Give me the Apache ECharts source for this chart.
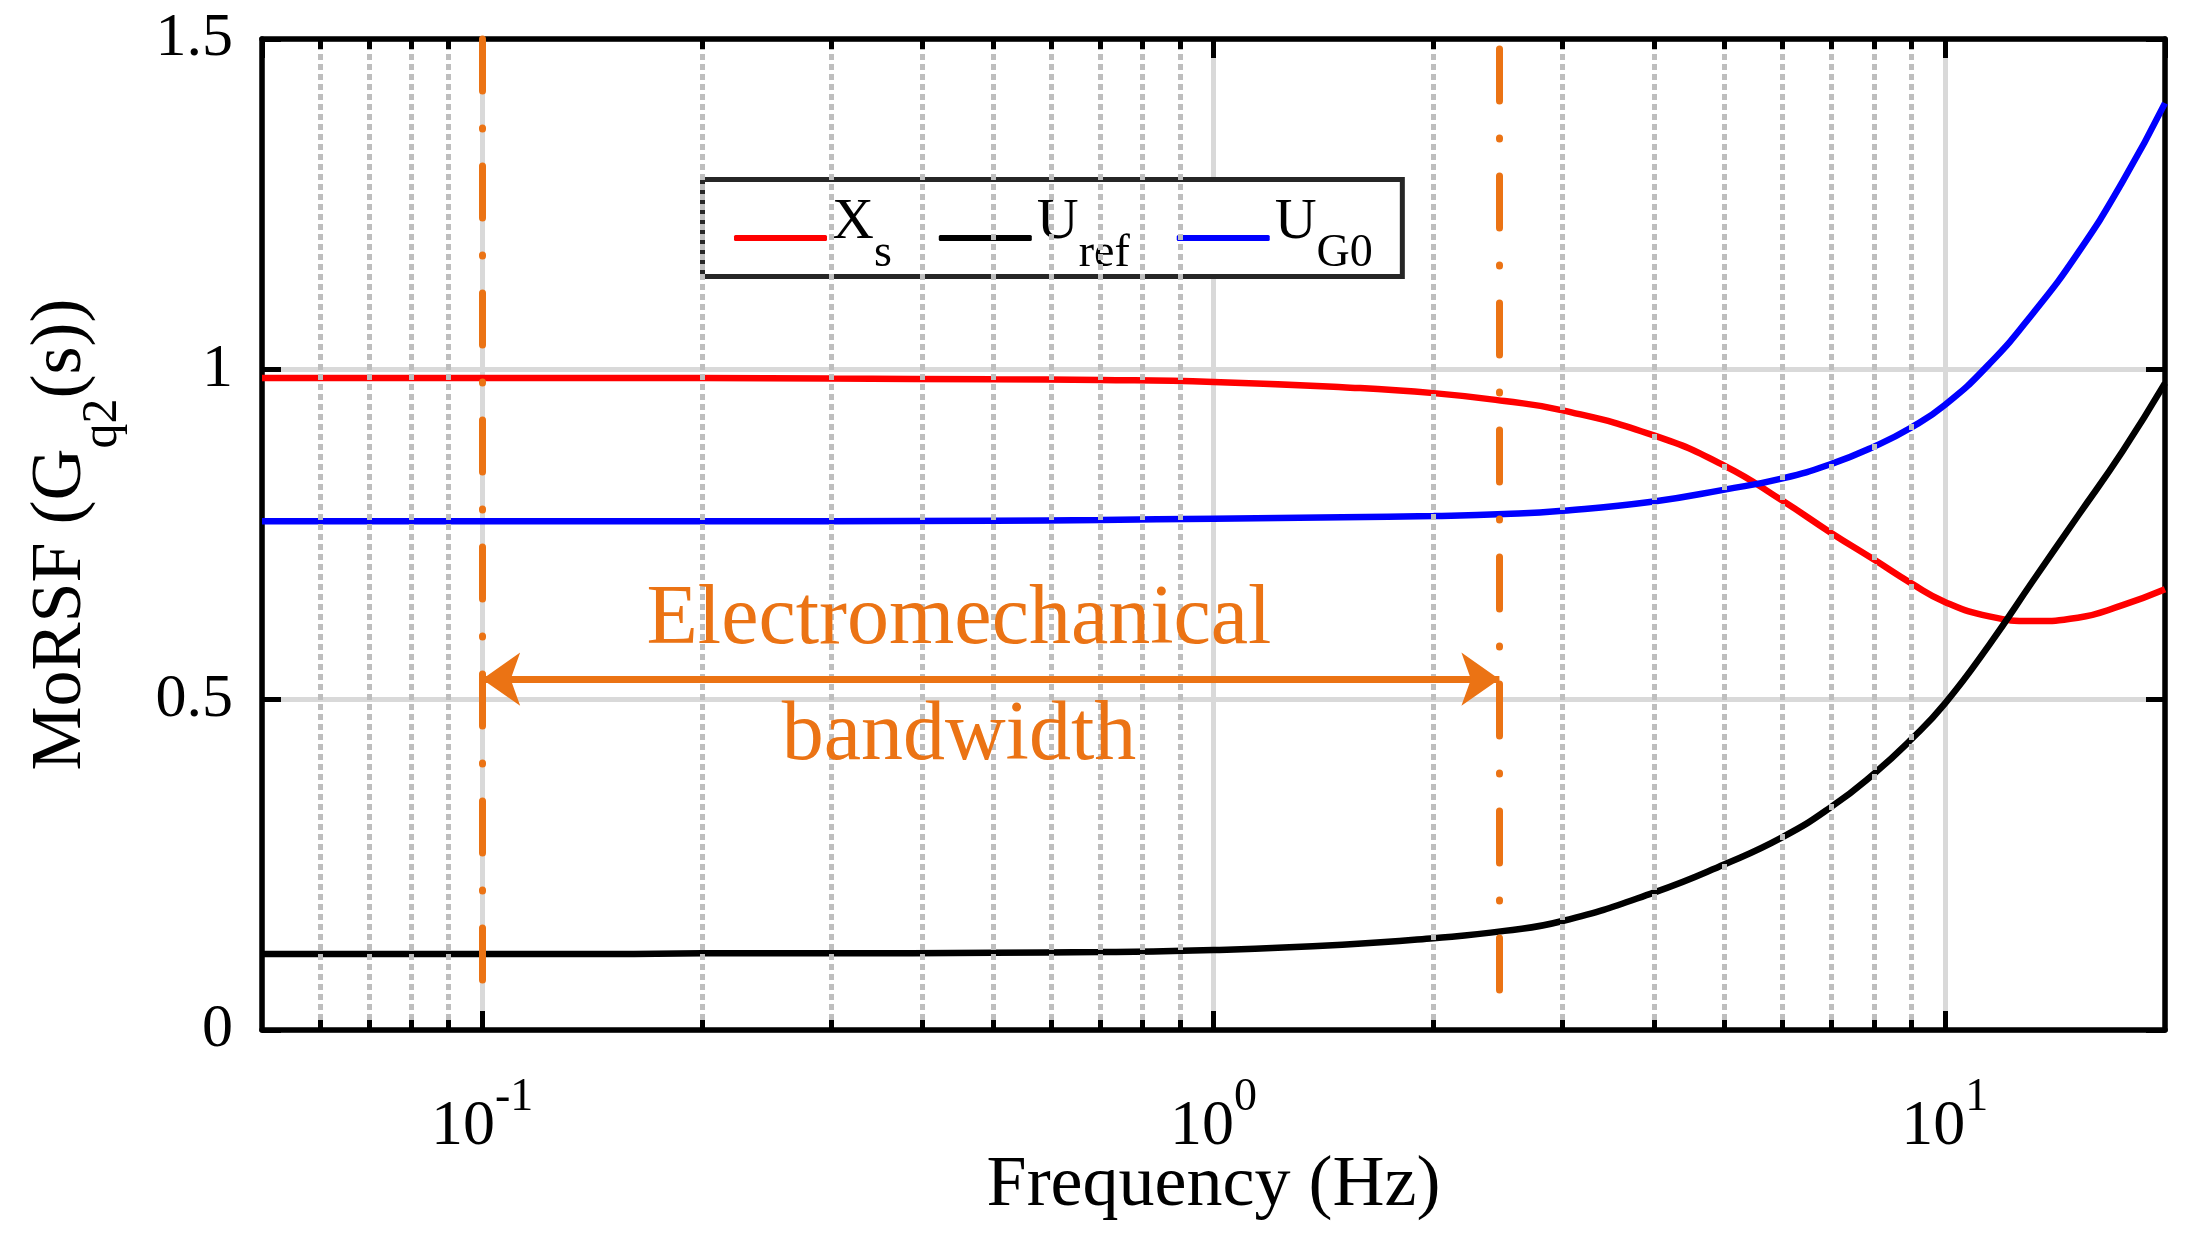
<!DOCTYPE html>
<html>
<head>
<meta charset="utf-8">
<script src="https://cdn.jsdelivr.net/npm/echarts@6/dist/echarts.min.js"></script>
<style>
html,body{margin:0;padding:0;background:#ffffff;}
#c{width:2198px;height:1235px;}
</style>
</head>
<body>
<div id="c"></div>
<script>
// ---- data ----
const freqHz  = [0.05, 0.07, 0.1, 0.15, 0.2, 0.3, 0.5, 0.7, 1, 1.5, 2, 2.5, 3, 4, 5, 6, 7, 8, 9, 10, 11.5, 13.2, 15.2, 17.5, 20];
const xsMag   = [0.987,0.987,0.987,0.987,0.987,0.986,0.985,0.984,0.981,0.973,0.964,0.952,0.938,0.900,0.854,0.801,0.752,0.712,0.676,0.648,0.626,0.619,0.624,0.643,0.667];
const urefMag = [0.115,0.115,0.115,0.115,0.116,0.116,0.117,0.118,0.121,0.129,0.139,0.150,0.165,0.208,0.251,0.292,0.338,0.388,0.440,0.494,0.583,0.680,0.778,0.876,0.979];
const ug0Mag  = [0.770,0.770,0.770,0.770,0.770,0.770,0.771,0.772,0.774,0.776,0.778,0.781,0.786,0.800,0.818,0.835,0.857,0.883,0.912,0.946,1.008,1.085,1.176,1.284,1.403];
const seriesNames = ['Xs', 'Uref', 'UG0'];
const legendLabels = {Xs: ['X', 's'], Uref: ['U', 'ref'], UG0: ['U', 'G0']};
const minorFreqs = [0.06,0.07,0.08,0.09,0.2,0.3,0.4,0.5,0.6,0.7,0.8,0.9,2,3,4,5,6,7,8,9];
const xRange = [0.05, 20];
const yRange = [0, 1.5];
const yStep = 0.5;
const bandLowHz = 0.1;
const bandHighHz = 2.46;
const bandArrowLevel = 0.531;
const bandText = ['Electromechanical', 'bandwidth'];
const bandTextAt = [0.4487, 0.531];

// ---- chart ----
const FONT = 'Liberation Serif';
const ORANGE = '#EB7314';
const chart = echarts.init(document.getElementById('c'), null, {renderer: 'canvas', width: 2198, height: 1235});
const pairs = ys => freqHz.map((f, i) => [f, ys[i]]);
const isPow10 = v => { const l = Math.log10(v); return Math.abs(l - Math.round(l)) < 1e-6; };
const tickLen = (yRange[1] - yRange[0]) * 10 / 991;

function vline(x, y0, y1) { return [{coord: [x, y0]}, {coord: [x, y1]}]; }
const arrowEnd = {symbol: 'arrow', symbolSize: [40, 38]};

const option = {
  animation: false,
  backgroundColor: '#ffffff',
  grid: {left: 262, right: 33, top: 39, bottom: 205, containLabel: false},
  legend: {
    data: seriesNames,
    left: 702.5, top: 179.5,
    orient: 'horizontal',
    padding: [14, 29.5, 0, 31.5],
    itemGap: 47,
    itemWidth: 93, itemHeight: 6,
    icon: 'roundRect',
    selectedMode: false,
    backgroundColor: '#ffffff',
    borderColor: '#262626', borderWidth: 5, borderRadius: 0,
    formatter: name => '{m|' + legendLabels[name][0] + '}{s|' + legendLabels[name][1] + '}',
    textStyle: {
      color: '#000', fontFamily: FONT, fontSize: 58,
      rich: {
        m: {fontFamily: FONT, fontSize: 58, lineHeight: 23, verticalAlign: 'top', color: '#000'},
        s: {fontFamily: FONT, fontSize: 46, lineHeight: 89, padding: [37, 0, 0, 0], verticalAlign: 'top', color: '#000'}
      }
    }
  },
  xAxis: [
    {
      type: 'log', logBase: 10, min: xRange[0], max: xRange[1], position: 'bottom',
      axisLine: {show: true, onZero: false, lineStyle: {color: '#000', width: 5.5}},
      axisTick: {show: true, inside: true, length: 19, lineStyle: {color: '#000', width: 5}},
      axisLabel: {
        margin: 45, showMinLabel: false, showMaxLabel: false,
        formatter: v => isPow10(v) ? '{m|10}{p|' + Math.round(Math.log10(v)) + '}' : '',
        rich: {
          m: {fontFamily: FONT, fontSize: 64, lineHeight: 84, verticalAlign: 'bottom', color: '#000'},
          p: {fontFamily: FONT, fontSize: 46, lineHeight: 46, verticalAlign: 'top', color: '#000'}
        }
      },
      splitLine: {show: true, lineStyle: {color: '#d9d9d9', width: 5}},
      name: 'Frequency (Hz)', nameLocation: 'middle', nameGap: 120, nameMoveOverlap: false,
      nameTextStyle: {fontFamily: FONT, fontSize: 72, lineHeight: 72, color: '#000'}
    },
    {
      type: 'log', logBase: 10, min: xRange[0], max: xRange[1], position: 'top',
      axisLine: {show: true, onZero: false, lineStyle: {color: '#000', width: 5.5}},
      axisTick: {show: true, inside: true, length: 19, lineStyle: {color: '#000', width: 5}},
      axisLabel: {show: false},
      splitLine: {show: false}
    }
  ],
  yAxis: [
    {
      type: 'value', min: yRange[0], max: yRange[1], interval: yStep, position: 'left',
      axisLine: {show: true, onZero: false, lineStyle: {color: '#000', width: 5.5}},
      axisTick: {show: true, inside: true, length: 19, lineStyle: {color: '#000', width: 5}},
      axisLabel: {margin: 29, fontFamily: FONT, fontSize: 62, color: '#000'},
      splitLine: {show: true, lineStyle: {color: '#d9d9d9', width: 5}},
      name: '{m|MoRSF (G}{s|q2}{m|(s))}', nameLocation: 'middle', nameGap: 165, nameRotate: 90,
      nameMoveOverlap: false,
      nameTextStyle: {
        fontFamily: FONT, fontSize: 72, color: '#000',
        rich: {
          m: {fontFamily: FONT, fontSize: 72, lineHeight: 72, verticalAlign: 'top', color: '#000'},
          s: {fontFamily: FONT, fontSize: 50, lineHeight: 50, padding: [53, 0, 0, 0], verticalAlign: 'top', color: '#000'}
        }
      }
    },
    {
      type: 'value', min: yRange[0], max: yRange[1], interval: yStep, position: 'right',
      axisLine: {show: true, onZero: false, lineStyle: {color: '#000', width: 5.5}},
      axisTick: {show: true, inside: true, length: 19, lineStyle: {color: '#000', width: 5}},
      axisLabel: {show: false},
      splitLine: {show: false}
    }
  ],
  series: [
    {
      name: 'minorGrid', type: 'line', data: [], xAxisIndex: 0, yAxisIndex: 0, z: 1, silent: true,
      markLine: {
        silent: true, symbol: ['none', 'none'], label: {show: false}, animation: false,
        lineStyle: {color: '#bebebe', width: 5, type: [6, 4], cap: 'butt'},
        emphasis: {disabled: true},
        data: minorFreqs.map(f => vline(f, yRange[0], yRange[1]))
      }
    },
    {
      name: 'Xs', type: 'line', data: pairs(xsMag), smooth: 0.5,
      showSymbol: false, symbol: 'none', z: 3,
      lineStyle: {color: '#ff0000', width: 6.5}, itemStyle: {color: '#ff0000'}
    },
    {
      name: 'Uref', type: 'line', data: pairs(urefMag), smooth: 0.5,
      showSymbol: false, symbol: 'none', z: 3,
      lineStyle: {color: '#000000', width: 6.5}, itemStyle: {color: '#000000'}
    },
    {
      name: 'UG0', type: 'line', data: pairs(ug0Mag), smooth: 0.5,
      showSymbol: false, symbol: 'none', z: 3,
      lineStyle: {color: '#0000ff', width: 6.5}, itemStyle: {color: '#0000ff'}
    },
    {
      name: 'minorTicks', type: 'line', data: [], z: 5, silent: true,
      markLine: {
        silent: true, symbol: ['none', 'none'], label: {show: false}, animation: false,
        lineStyle: {color: '#000', width: 5, type: 'solid'},
        emphasis: {disabled: true},
        data: minorFreqs.map(f => vline(f, yRange[0], yRange[0] + tickLen))
          .concat(minorFreqs.map(f => vline(f, yRange[1], yRange[1] - tickLen)))
      }
    },
    {
      name: 'bandLines', type: 'line', data: [], z: 4, silent: true,
      markLine: {
        silent: true, symbol: ['none', 'none'], label: {show: false}, animation: false,
        lineStyle: {color: ORANGE, width: 7, type: [52, 37, 1, 37], cap: 'round'},
        emphasis: {disabled: true},
        data: [vline(bandLowHz, 1.5, 0.033), vline(bandHighHz, 1.485, 0.017)]
      }
    },
    {
      name: 'bandArrow', type: 'line', data: [], z: 4, silent: true,
      markLine: {
        silent: true, symbol: ['arrow', 'arrow'],
        label: {show: false}, animation: false,
        lineStyle: {color: ORANGE, width: 7, type: 'solid'},
        itemStyle: {color: ORANGE},
        emphasis: {disabled: true},
        data: [[Object.assign({coord: [bandLowHz, bandArrowLevel]}, arrowEnd),
                Object.assign({coord: [bandHighHz, bandArrowLevel]}, arrowEnd)]]
      }
    },
    {
      name: 'bandLabel', type: 'line', data: [], z: 4, silent: true,
      markPoint: {
        silent: true, symbol: 'circle', symbolSize: 0, animation: false,
        itemStyle: {color: 'rgba(0,0,0,0)'},
        label: {
          show: true, position: 'inside', formatter: bandText.join('\n'),
          fontFamily: FONT, fontSize: 84, lineHeight: 116, color: ORANGE, align: 'center'
        },
        data: [{coord: bandTextAt}]
      }
    }
  ]
};
chart.setOption(option);
</script>
</body>
</html>
